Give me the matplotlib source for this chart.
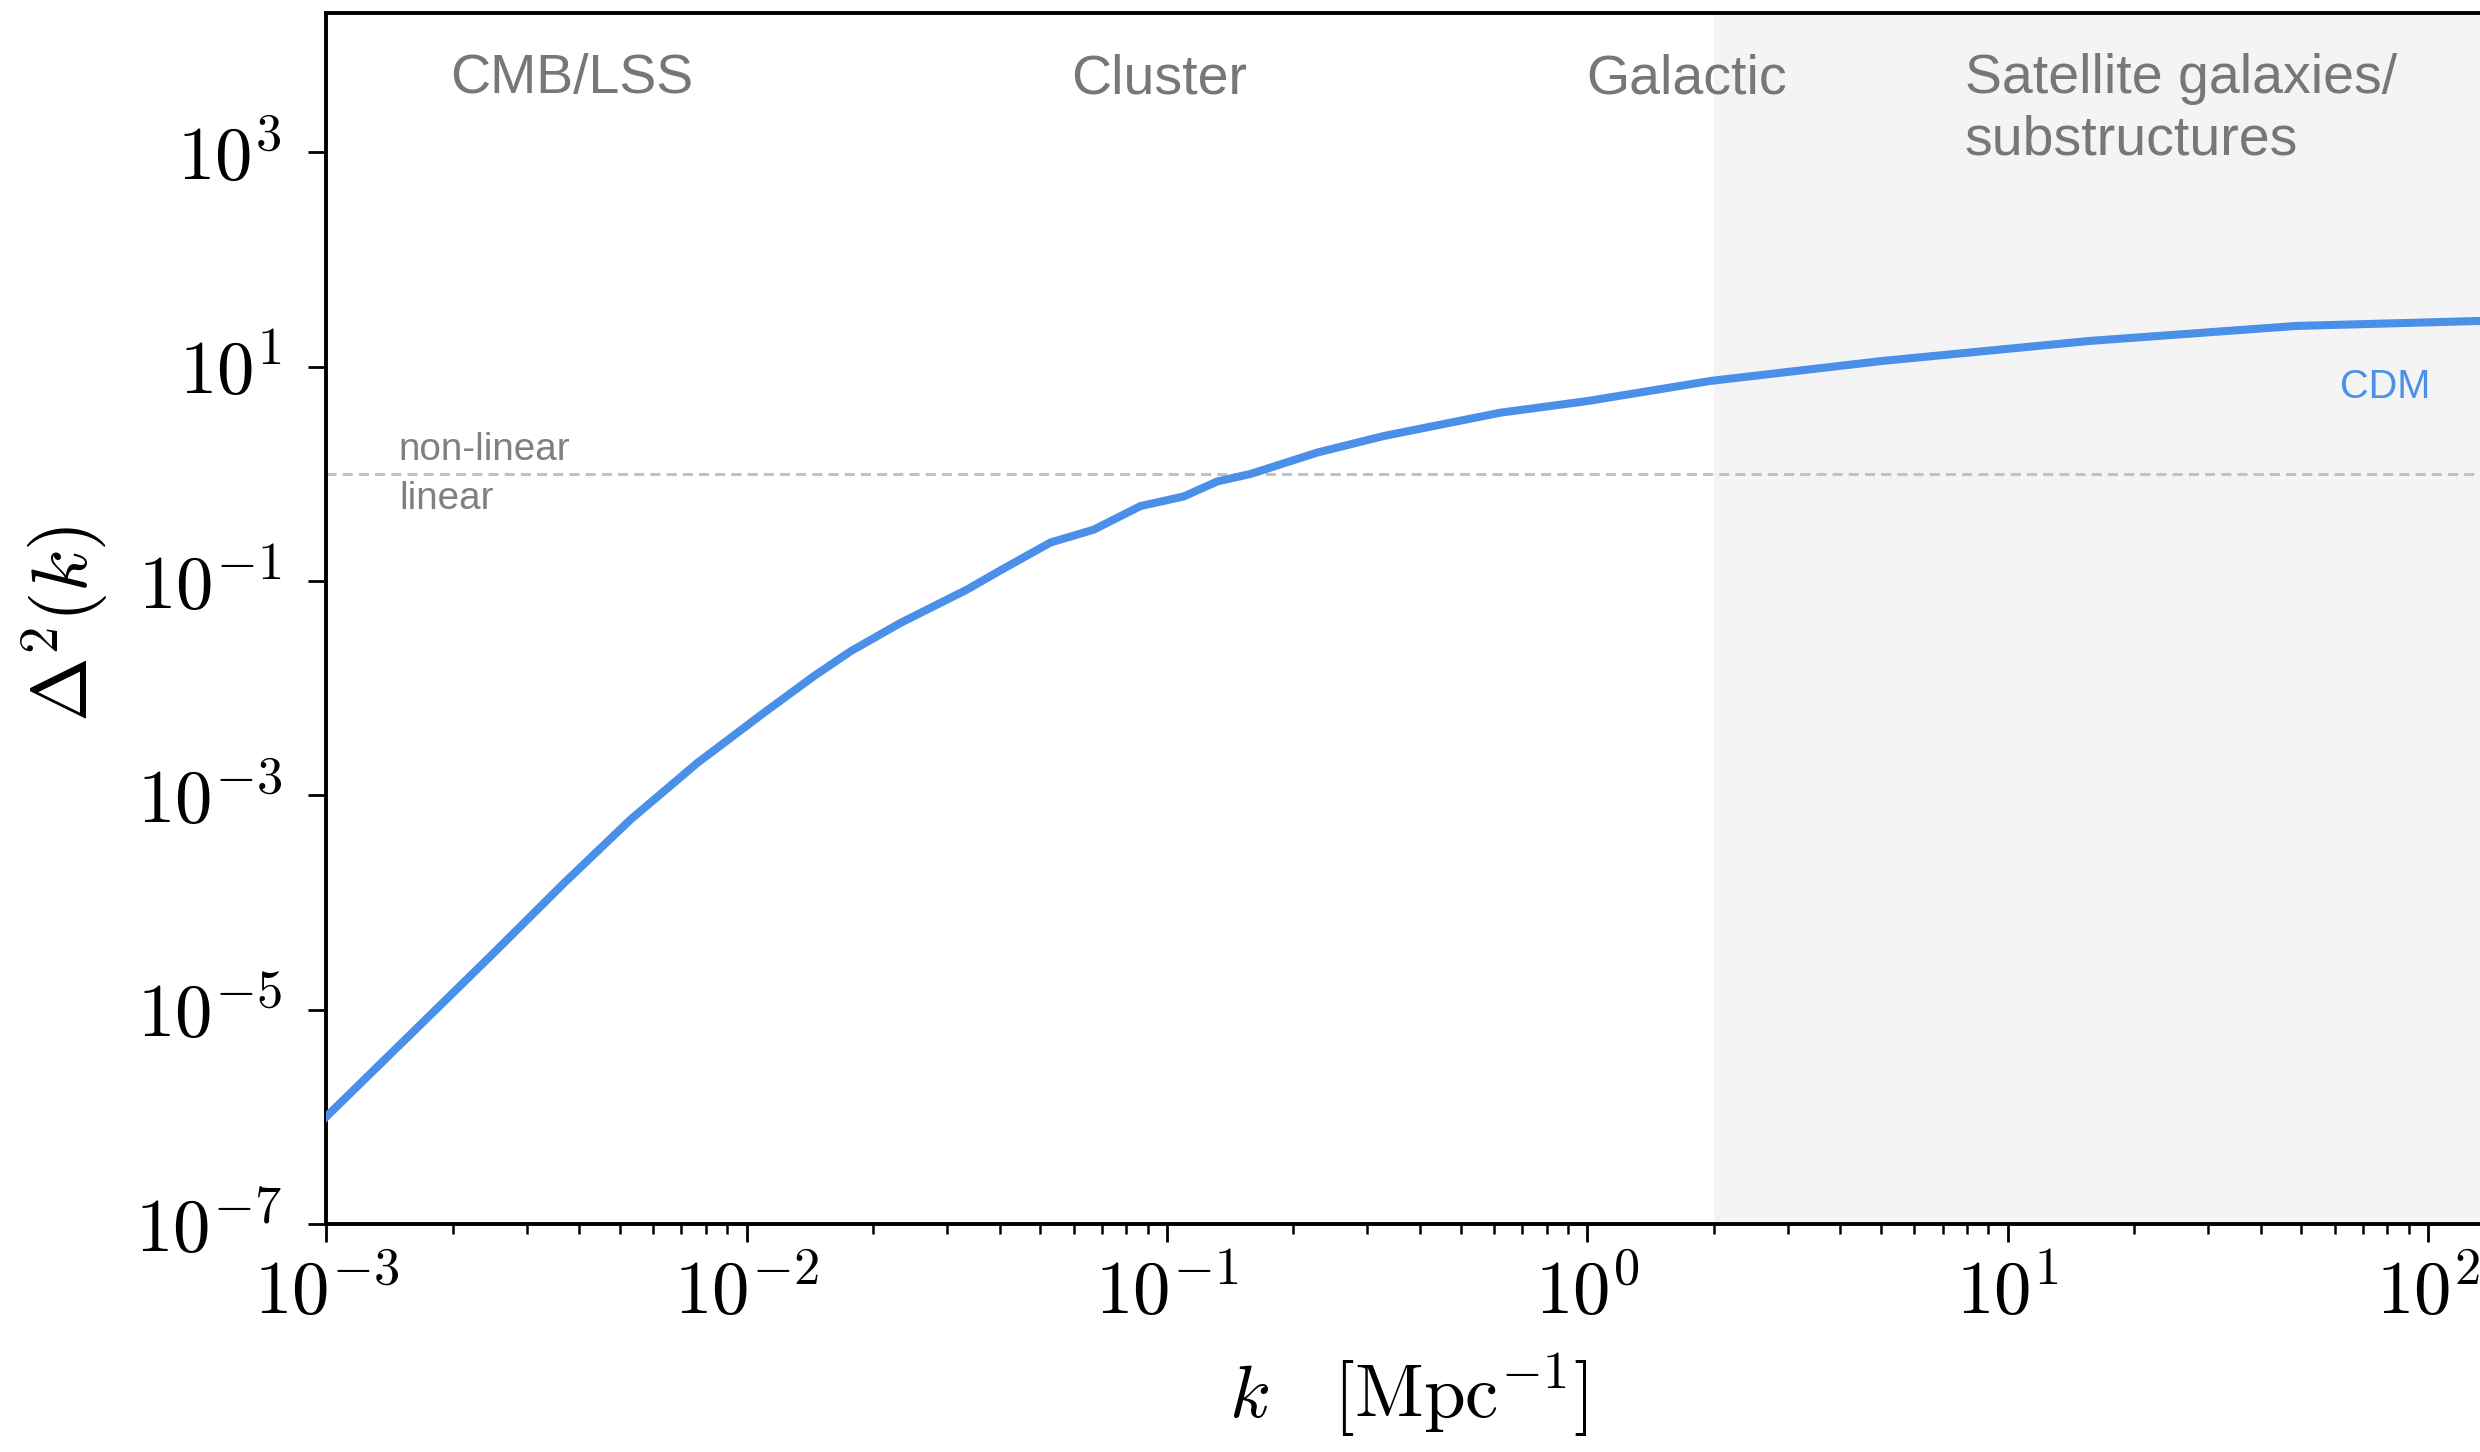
import numpy as np
import matplotlib
matplotlib.use('Agg')
import matplotlib.pyplot as plt
import matplotlib.ticker as mticker
import matplotlib.transforms as mtransforms

# ── 데이터 (그림에서 읽은 값, log10) ──
log_k = [-3.0, -2.807, -2.609, -2.434, -2.276, -2.117, -1.959, -1.840, -1.752,
         -1.633, -1.475, -1.396, -1.277, -1.174, -1.063, -0.960, -0.880, -0.801,
         -0.745, -0.642, -0.484, -0.325, -0.206, 0.0, 0.293, 0.703, 1.194, 1.686,
         2.125, 2.5]
log_delta2 = [-6.0, -5.26, -4.50, -3.818, -3.226, -2.697, -2.230, -1.888, -1.654,
              -1.389, -1.078, -0.90, -0.64, -0.52, -0.30, -0.21, -0.07, 0.0,
              0.07, 0.20, 0.354, 0.479, 0.572, 0.68, 0.868, 1.055, 1.241, 1.381,
              1.428, 1.45]

regions = ['CMB/LSS', 'Cluster', 'Galactic', 'Satellite galaxies/\nsubstructures']
region_x = [0.00384, 0.096, 1.72, 7.9]
region_ha = ['center', 'center', 'center', 'left']

k_shade = 2.0
nonlinear_level = 1.0

k = 10 ** np.array(log_k)
delta2 = 10 ** np.array(log_delta2)

plt.rcParams['mathtext.fontset'] = 'cm'
plt.rcParams['font.family'] = ['Liberation Sans', 'DejaVu Sans']

fig = plt.figure(figsize=(12.4, 7.26), dpi=200)
ax = fig.add_axes([0.1315, 0.157, 0.9323, 0.834])

ax.set_xscale('log')
ax.set_yscale('log')
ax.set_xlim(1e-3, 10 ** 2.5)
ax.set_ylim(1e-7, 2e4)

ax.axvspan(k_shade, 1e3, color='#f4f4f4', zorder=0, lw=0)
ax.axhline(nonlinear_level, color='#c2c2c2', lw=1.1, ls=(0, (3.3, 2)), zorder=1)

ax.plot(k, delta2, color='#4a8fe8', lw=2.9, zorder=3, solid_joinstyle='round')

# 영역 라벨
trans = mtransforms.blended_transform_factory(ax.transData, ax.transAxes)
for name, x, ha in zip(regions, region_x, region_ha):
    ax.text(x, 0.9667, name, transform=trans, ha=ha, va='top',
            fontsize=20, color='#777777', linespacing=1.23)

ax.text(0.00149, 1.67, 'non-linear', fontsize=13.9, color='#808080', ha='left', va='center')
ax.text(0.00149, 0.58, 'linear', fontsize=13.9, color='#808080', ha='left', va='center')
ax.text(79, 6.5, 'CDM', fontsize=14.3, color='#4a8fe8', ha='center', va='center')

# 축
def pow10(v, pos):
    return r'$10^{%d}$' % int(round(np.log10(v)))

ax.set_yticks([1e-7, 1e-5, 1e-3, 1e-1, 1e1, 1e3])
ax.yaxis.set_minor_locator(mticker.NullLocator())
ax.xaxis.set_major_locator(mticker.LogLocator(base=10, numticks=10))
ax.xaxis.set_minor_locator(mticker.LogLocator(base=10, subs=np.arange(2, 10), numticks=20))
ax.xaxis.set_minor_formatter(mticker.NullFormatter())
ax.xaxis.set_major_formatter(mticker.FuncFormatter(pow10))
ax.yaxis.set_major_formatter(mticker.FuncFormatter(pow10))

ax.tick_params(which='major', direction='out', length=6.5, width=1.0, labelsize=27)
ax.tick_params(axis='x', which='major', pad=6)
ax.tick_params(axis='y', which='major', pad=9.5)
ax.tick_params(which='minor', direction='out', length=3.6, width=0.9)
for s in ax.spines.values():
    s.set_linewidth(1.4)

ax.set_xlabel(r'$k\ \ \ [\mathrm{Mpc}^{-1}]$', fontsize=27)
ax.set_ylabel(r'$\Delta^2(k)$', fontsize=28)
ax.xaxis.set_label_coords(0.468, -0.105)
ax.yaxis.set_label_coords(-0.093, 0.495)

fig.savefig('out.png', dpi=200)
